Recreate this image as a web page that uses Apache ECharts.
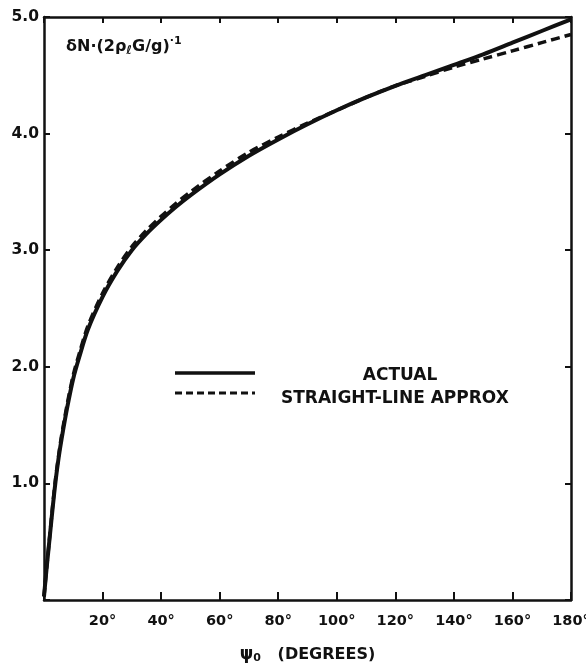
<!DOCTYPE html>
<html><head><meta charset="utf-8">
<script src="https://cdn.jsdelivr.net/npm/echarts@6/dist/echarts.min.js"></script>
<style>html,body{margin:0;padding:0;background:#fff}#c{width:586px;height:671px}</style>
</head><body><div id="c"></div>
<script>
const psiActual = [0,1,2,3,4,5,6,8,10,12,15,20,25,30,35,40,45,50,60,70,80,90,100,110,120,130,140,150,160,170,180];
const valActual = [0.03,0.3,0.55,0.8,1.03,1.22,1.38,1.66,1.9,2.08,2.32,2.6,2.82,3.0,3.14,3.26,3.37,3.47,3.65,3.81,3.95,4.08,4.2,4.31,4.41,4.5,4.59,4.68,4.78,4.88,4.98];
const psiApprox = [0,1,2,3,4,5,6,8,10,12,15,20,25,30,35,40,45,50,60,70,80,90,100,110,120,125,130,140,150,160,170,180];
const valApprox = [0.03,0.3,0.56,0.82,1.05,1.24,1.41,1.69,1.93,2.11,2.35,2.63,2.85,3.03,3.17,3.29,3.4,3.5,3.68,3.84,3.97,4.09,4.2,4.31,4.41,4.45,4.49,4.57,4.64,4.71,4.78,4.85];
const xTicks = [20,40,60,80,100,120,140,160,180];
const yTicks = [1.0,2.0,3.0,4.0,5.0];
const legendNames = ['ACTUAL','STRAIGHT-LINE APPROX'];

const FONT = 'DejaVu Sans';
const chart = echarts.init(document.getElementById('c'), null, {renderer:'canvas'});
const axLine = {onZero:false, lineStyle:{color:'#111', width:2.5}};
const tick = (len) => ({show:true, inside:true, length:len, lineStyle:{color:'#111', width:2}});
chart.setOption({
  animation:false,
  backgroundColor:'#fff',
  grid: {left:44, right:15, top:17, bottom:71, containLabel:false, outerBoundsMode:'none'},
  xAxis:[{
    type:'value', min:0, max:180, interval:20, position:'bottom',
    axisLine: axLine, axisTick: tick(8),
    axisLabel:{fontFamily:FONT, fontWeight:'bold', fontSize:14.5, color:'#111', margin:14,
      formatter:v => xTicks.includes(v) ? v + '°' : ''},
    splitLine:{show:false},
    name:'{p|ψ}{s|0}{t|   (DEGREES)}', nameLocation:'middle', nameGap:46,
    nameTextStyle:{rich:{
      p:{fontFamily:FONT, fontSize:17, fontWeight:'bold', color:'#111'},
      s:{fontFamily:FONT, fontSize:11, fontWeight:'bold', color:'#111', verticalAlign:'bottom', padding:[7,0,0,0]},
      t:{fontFamily:FONT, fontSize:16, fontWeight:'bold', color:'#111'}
    }}
  },{
    type:'value', min:0, max:180, interval:20, position:'top',
    axisLine: axLine, axisTick: tick(6),
    axisLabel:{show:false}, splitLine:{show:false}
  }],
  yAxis:[{
    type:'value', min:0, max:5, interval:1, position:'left',
    axisLine: axLine, axisTick: tick(6),
    axisLabel:{fontFamily:FONT, fontWeight:'bold', fontSize:15.5, color:'#111', margin:5,
      formatter:v => yTicks.includes(v) ? v.toFixed(1) : ''},
    splitLine:{show:false}
  },{
    type:'value', min:0, max:5, interval:1, position:'right',
    axisLine: axLine, axisTick: tick(6),
    axisLabel:{show:false}, splitLine:{show:false}
  }],
  series:[{
    name:legendNames[0], type:'line', smooth:0.3, showSymbol:false,
    data: psiActual.map((x,i)=>[x,valActual[i]]),
    lineStyle:{color:'#111', width:4}, z:3
  },{
    name:legendNames[1], type:'line', smooth:0.3, showSymbol:false,
    data: psiApprox.map((x,i)=>[x,valApprox[i]]),
    lineStyle:{color:'#111', width:3.5, type:[9,5]}, z:2
  }],
  graphic:[
    {type:'line', shape:{x1:175,y1:373,x2:255,y2:373}, style:{stroke:'#111', lineWidth:3.5}},
    {type:'line', shape:{x1:175,y1:393,x2:255,y2:393}, style:{stroke:'#111', lineWidth:3, lineDash:[7,4]}},
    {type:'text', x:400, y:376, style:{text:legendNames[0], fontFamily:FONT, fontWeight:'bold', fontSize:17, fill:'#111', align:'center', verticalAlign:'middle'}},
    {type:'text', x:281, y:399, style:{text:legendNames[1], fontFamily:FONT, fontWeight:'bold', fontSize:17, fill:'#111', align:'left', verticalAlign:'middle'}},
    {type:'text', x:66, y:36, style:{
      text:'{a|δN·(2ρ}{b|ℓ}{a|G/g)}{c|·1}',
      rich:{
        a:{fontFamily:FONT, fontWeight:'bold', fontSize:16, fill:'#111'},
        b:{fontFamily:FONT, fontWeight:'bold', fontSize:12, fill:'#111', verticalAlign:'bottom', padding:[9,0,0,0]},
        c:{fontFamily:FONT, fontWeight:'bold', fontSize:11, fill:'#111', verticalAlign:'top', padding:[0,0,8,0]}
      }
    }}
  ]
});
</script></body></html>
